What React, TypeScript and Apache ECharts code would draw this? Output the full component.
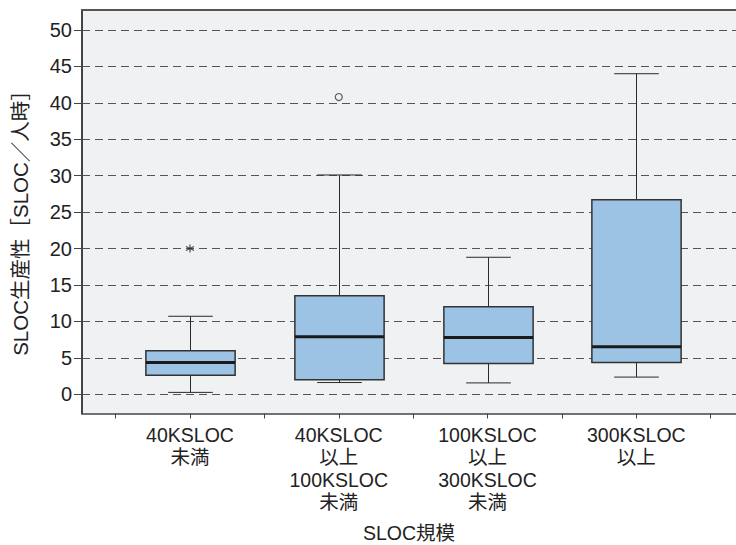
import React, { useEffect, useRef } from "react";
import * as echarts from "echarts";

const categories = [
  "40KSLOC\n未満",
  "40KSLOC\n以上\n100KSLOC\n未満",
  "100KSLOC\n以上\n300KSLOC\n未満",
  "300KSLOC\n以上",
];
const categoryPositions = [0, 1, 2, 3];
const whiskerLow = [0.25, 1.6, 1.55, 2.35];
const q1 = [2.6, 2.0, 4.2, 4.35];
const median = [4.35, 7.9, 7.8, 6.5];
const q3 = [5.95, 13.5, 12.0, 26.7];
const whiskerHigh = [10.7, 30.1, 18.8, 44.0];
const outlierCircle = [[1, 40.8]];
const outlierStar = [[0, 20.0]];
const yTicks = [0, 5, 10, 15, 20, 25, 30, 35, 40, 45, 50];
const xTicks = [-0.5, 0, 0.5, 1, 1.5, 2, 2.5, 3, 3.5];

const FONT = "'Liberation Sans', 'Noto Sans CJK JP', sans-serif";

export default function App() {
  const ref = useRef<HTMLDivElement>(null);
  useEffect(() => {
    if (!ref.current) return;
    const chart = echarts.init(ref.current, undefined, { renderer: "svg" });
    const boxData = categoryPositions.map((x, i) => [
      x,
      whiskerLow[i],
      q1[i],
      median[i],
      q3[i],
      whiskerHigh[i],
    ]);
    const option: any = {
      animation: false,
      backgroundColor: "#ffffff",
      textStyle: { fontFamily: FONT },
      grid: {
        left: 82,
        right: 0,
        top: 10,
        bottom: 131.5,
        show: true,
        backgroundColor: "#f0f1f3",
        borderWidth: 0,
      },
      xAxis: [
        {
          type: "value",
          position: "bottom",
          min: -0.726,
          max: 3.67,
          minInterval: 0.5,
          maxInterval: 0.5,
          axisLine: { show: true, onZero: false, lineStyle: { color: "#444", width: 1.5 } },
          axisTick: {
            show: true,
            length: 5,
            customValues: xTicks,
            lineStyle: { color: "#444", width: 1 },
          },
          axisLabel: {
            show: true,
            customValues: categoryPositions,
            formatter: (v: number) => {
              const idx = Math.round(v);
              if (Math.abs(v - idx) < 1e-6 && idx >= 0 && idx < categories.length) return categories[idx];
              return "";
            },
            fontSize: 19.5,
            lineHeight: 22.5,
            color: "#222",
            margin: 10,
            fontFamily: FONT,
          },
          splitLine: { show: false },
        },
        {
          type: "value",
          position: "top",
          min: -0.726,
          max: 3.67,
          axisLine: { show: true, onZero: false, lineStyle: { color: "#555", width: 2 } },
          axisTick: { show: false },
          axisLabel: { show: false },
          splitLine: { show: false },
        },
      ],
      yAxis: {
        type: "value",
        min: -2.65,
        max: 52.75,
        minInterval: 5,
        maxInterval: 5,
        axisLine: { show: true, onZero: false, lineStyle: { color: "#444", width: 2 } },
        axisTick: {
          show: true,
          length: 8,
          customValues: yTicks,
          lineStyle: { color: "#444", width: 1 },
        },
        axisLabel: {
          customValues: yTicks,
          fontSize: 20,
          color: "#222",
          margin: 10,
          fontFamily: FONT,
        },
        splitLine: {
          show: true,
          lineStyle: { type: [8, 5], color: "#555", width: 1 },
        },
      },
      series: [
        {
          type: "custom",
          data: boxData,
          encode: { x: 0, y: [1, 2, 3, 4, 5] },
          renderItem: (params: any, api: any) => {
            const x = api.value(0);
            const pLow = api.coord([x, api.value(1)]);
            const pQ1 = api.coord([x, api.value(2)]);
            const pMed = api.coord([x, api.value(3)]);
            const pQ3 = api.coord([x, api.value(4)]);
            const pHigh = api.coord([x, api.value(5)]);
            const boxW = api.size([0.6, 0])[0];
            const capW = api.size([0.3, 0])[0];
            const cx = Math.round(pLow[0]) + 0.5;
            const lineStyle = { stroke: "#2a2a2a", lineWidth: 1 };
            return {
              type: "group",
              children: [
                {
                  type: "line",
                  shape: { x1: cx, y1: pHigh[1], x2: cx, y2: pQ3[1] },
                  style: lineStyle,
                },
                {
                  type: "line",
                  shape: { x1: cx, y1: pQ1[1], x2: cx, y2: pLow[1] },
                  style: lineStyle,
                },
                {
                  type: "line",
                  shape: { x1: cx - capW / 2, y1: pHigh[1], x2: cx + capW / 2, y2: pHigh[1] },
                  style: lineStyle,
                },
                {
                  type: "line",
                  shape: { x1: cx - capW / 2, y1: pLow[1], x2: cx + capW / 2, y2: pLow[1] },
                  style: lineStyle,
                },
                {
                  type: "rect",
                  shape: { x: cx - boxW / 2, y: pQ3[1], width: boxW, height: pQ1[1] - pQ3[1] },
                  style: { fill: "#9cc3e4", stroke: "#333", lineWidth: 1.5 },
                },
                {
                  type: "line",
                  shape: { x1: cx - boxW / 2, y1: pMed[1], x2: cx + boxW / 2, y2: pMed[1] },
                  style: { stroke: "#1a1a1a", lineWidth: 3 },
                },
              ],
            };
          },
          z: 3,
        },
        {
          type: "scatter",
          data: outlierCircle,
          symbol: "circle",
          symbolSize: 7,
          itemStyle: { color: "#f0f1f3", borderColor: "#333", borderWidth: 1.2 },
          z: 4,
        },
        {
          type: "scatter",
          data: outlierStar,
          symbol: "path://M0,-5L0,5M-4.33,-2.5L4.33,2.5M-4.33,2.5L4.33,-2.5",
          symbolSize: 8,
          itemStyle: { color: "transparent", borderColor: "#222", borderWidth: 1.2 },
          z: 4,
        },
      ],
      graphic: [
        {
          type: "text",
          x: 409,
          y: 533,
          style: {
            text: "SLOC規模",
            fontSize: 19.5,
            fontFamily: FONT,
            fill: "#222",
            align: "center",
            verticalAlign: "middle",
          },
        },
        {
          type: "text",
          x: 20,
          y: 218,
          rotation: Math.PI / 2,
          style: {
            text: "SLOC生産性［SLOC／人時］",
            fontSize: 20.5,
            fontFamily: FONT,
            fill: "#222",
            align: "center",
            verticalAlign: "middle",
          },
        },
      ],
    };
    chart.setOption(option);
    return () => chart.dispose();
  }, []);
  return (
    <div
      ref={ref}
      style={{ position: "fixed", left: 0, top: 0, width: 736, height: 545 }}
    />
  );
}
